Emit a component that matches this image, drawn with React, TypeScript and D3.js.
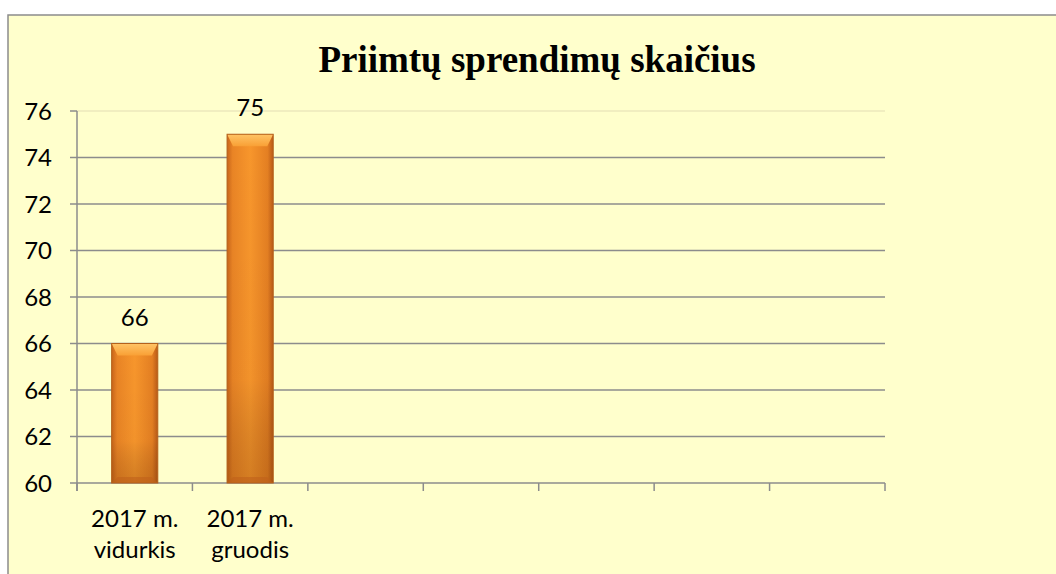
import React from "react";
import * as d3 from "d3";

const categories = ["2017 m.\nvidurkis", "2017 m.\ngruodis", "c3", "c4", "c5", "c6", "c7"];
const values: (number | null)[] = [66, 75, null, null, null, null, null];
const yTicks = [60, 62, 64, 66, 68, 70, 72, 74, 76];
const title = "Priimtų sprendimų skaičius";

const W = 1056, H = 574;
const left = 77, right = 885, top = 111, bottom = 483;

export default function App() {
  const x = d3.scaleBand<string>().domain(categories).range([left, right]).paddingInner(0).paddingOuter(0);
  const y = d3.scaleLinear().domain([60, 76]).range([bottom, top]);
  const bw = x.bandwidth() * 0.4;
  const font = "Lato, 'Open Sans', sans-serif";
  const ticksX = categories.map((c) => x(c)!).concat([right]);
  return (
    <svg width={W} height={H} style={{ position: "absolute", left: 0, top: 0 }}>
      <defs>
        <linearGradient id="barG" x1="0" x2="1" y1="0" y2="0">
          <stop offset="0" stopColor="#c8651a" />
          <stop offset="0.12" stopColor="#e98425" />
          <stop offset="0.5" stopColor="#f7962c" />
          <stop offset="0.88" stopColor="#e47f22" />
          <stop offset="1" stopColor="#b85a17" />
        </linearGradient>
        <linearGradient id="barV" x1="0" x2="0" y1="0" y2="1">
          <stop offset="0" stopColor="#000" stopOpacity="0" />
          <stop offset="0.7" stopColor="#000" stopOpacity="0.02" />
          <stop offset="1" stopColor="#5a2800" stopOpacity="0.22" />
        </linearGradient>
        <linearGradient id="bevelTop" x1="0" x2="0" y1="0" y2="1">
          <stop offset="0" stopColor="#ffc466" />
          <stop offset="1" stopColor="#f9a035" />
        </linearGradient>
      </defs>
      <rect x={8} y={15} width={W} height={H} fill="#ffffcc" stroke="#8c8c8c" strokeWidth={1.5} />
      <text x={537} y={72} textAnchor="middle" fontFamily="'Liberation Serif', 'Times New Roman', serif" fontWeight="bold" fontSize={37} fill="#000">{title}</text>
      {yTicks.map((t) => (
        <g key={t}>
          {t === 76 && <line x1={left} x2={right} y1={y(t)} y2={y(t)} stroke="#ecE8bc" strokeWidth={1.5} />}
          {t !== 60 && t !== 76 && <line x1={left} x2={right} y1={y(t)} y2={y(t)} stroke="#8c8c8c" strokeWidth={1.5} />}
          <line x1={70} x2={left} y1={y(t)} y2={y(t)} stroke="#8c8c8c" strokeWidth={1.5} />
          <text x={52} y={y(t)} dy="0.36em" textAnchor="end" fontFamily={font} fontSize={24} fill="#000">{t}</text>
        </g>
      ))}
      <line x1={left} x2={left} y1={top} y2={bottom + 8} stroke="#8c8c8c" strokeWidth={1.5} />
      <line x1={left} x2={right} y1={bottom} y2={bottom} stroke="#8c8c8c" strokeWidth={1.5} />
      {ticksX.map((tx, i) => (
        <line key={i} x1={tx} x2={tx} y1={bottom} y2={bottom + 8} stroke="#8c8c8c" strokeWidth={1.5} />
      ))}
      {categories.map((c, i) => {
        const v = values[i];
        const cx = x(c)! + x.bandwidth() / 2;
        const lines = c.split("\n");
        return (
          <g key={c}>
            {v !== null && (() => {
              const x0 = cx - bw / 2, x1 = cx + bw / 2, y0 = y(v), y1 = y(60);
              const b = 6;
              return (
                <g>
                  <rect x={x0} y={y0} width={bw} height={y1 - y0} fill="url(#barG)" />
                  <rect x={x0} y={y0} width={bw} height={y1 - y0} fill="url(#barV)" />
                  <polygon points={`${x0},${y0} ${x1},${y0} ${x1 - b},${y0 + b * 2} ${x0 + b},${y0 + b * 2}`} fill="url(#bevelTop)" />
                  <polygon points={`${x0},${y1} ${x1},${y1} ${x1 - b},${y1 - b} ${x0 + b},${y1 - b}`} fill="#c0601a" opacity={0.6} />
                  <rect x={x0} y={y0} width={bw} height={y1 - y0} fill="none" stroke="#b4621c" strokeWidth={1} />
                  <text x={cx} y={y0 - 18} textAnchor="middle" fontFamily={font} fontSize={24} fill="#000">{v}</text>
                </g>
              );
            })()}
            {v !== null && lines.map((l, j) => (
              <text key={j} x={cx} y={527 + j * 31} textAnchor="middle" fontFamily={font} fontSize={24} fill="#000">{l}</text>
            ))}
          </g>
        );
      })}
    </svg>
  );
}
